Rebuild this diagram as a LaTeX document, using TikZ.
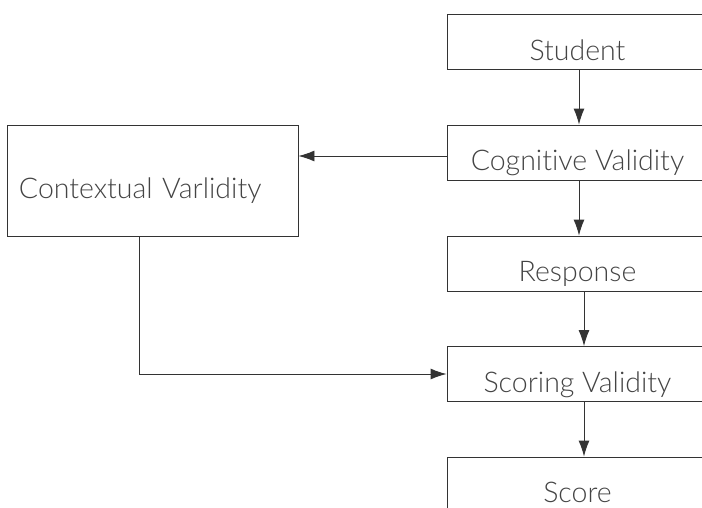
\documentclass[tikz,border=0pt]{standalone}
\usepackage{fontspec}
\setmainfont{Lato}[UprightFont=* Light, Ligatures=NoCommon]
\usetikzlibrary{arrows.meta}
\definecolor{boxline}{HTML}{333333}
\definecolor{boxtext}{HTML}{444444}
\begin{document}
\begin{tikzpicture}[x=1pt,y=-1pt,
    box/.style={draw=boxline, line width=0.9pt, rectangle, minimum width=261pt, minimum height=55pt, text height=40pt, text depth=4pt, font=\fontsize{28.5}{30}\selectfont, text=boxtext},
    arr/.style={-{Latex[length=16pt,width=11pt]}, draw=boxline, line width=0.9pt}]
          \useasboundingbox (0,0) rectangle (702,507);
          \clip (0,0) rectangle (702,507);
          \node[box] (stud) at (577.5, 42) {Student};
          \node[box] (cog) at (577.5, 152.5) {Cognitive Validity};
          \node[box] (resp) at (577.5, 263.5) {Response};
          \node[box] (scor) at (577.5, 374) {Scoring Validity};
          \node[box] (score) at (577.5, 484.5) {Score};
          \node[box, minimum width=291pt, minimum height=111pt, text width=267pt, inner xsep=12pt, align=left] (ctx) at (152.5, 180.5) {Contextual Varlidity};
          \draw[arr] ([xshift=1.5pt]stud.south) -- ([xshift=1.5pt]cog.north);
          \draw[arr] ([xshift=1.5pt]cog.south) -- ([xshift=1.5pt]resp.north);
          \draw[arr] ([xshift=6.5pt]resp.south) -- ([xshift=6.5pt]scor.north);
          \draw[arr] ([xshift=6.5pt]scor.south) -- ([xshift=6.5pt]score.north);
          \draw[arr] ([yshift=-3.5pt]cog.west) -- ([yshift=-3.5pt]cog.west -| ctx.east);
          \draw[arr] ([xshift=133pt]ctx.south west) |- (scor.west);
        \end{tikzpicture}
\end{document}
